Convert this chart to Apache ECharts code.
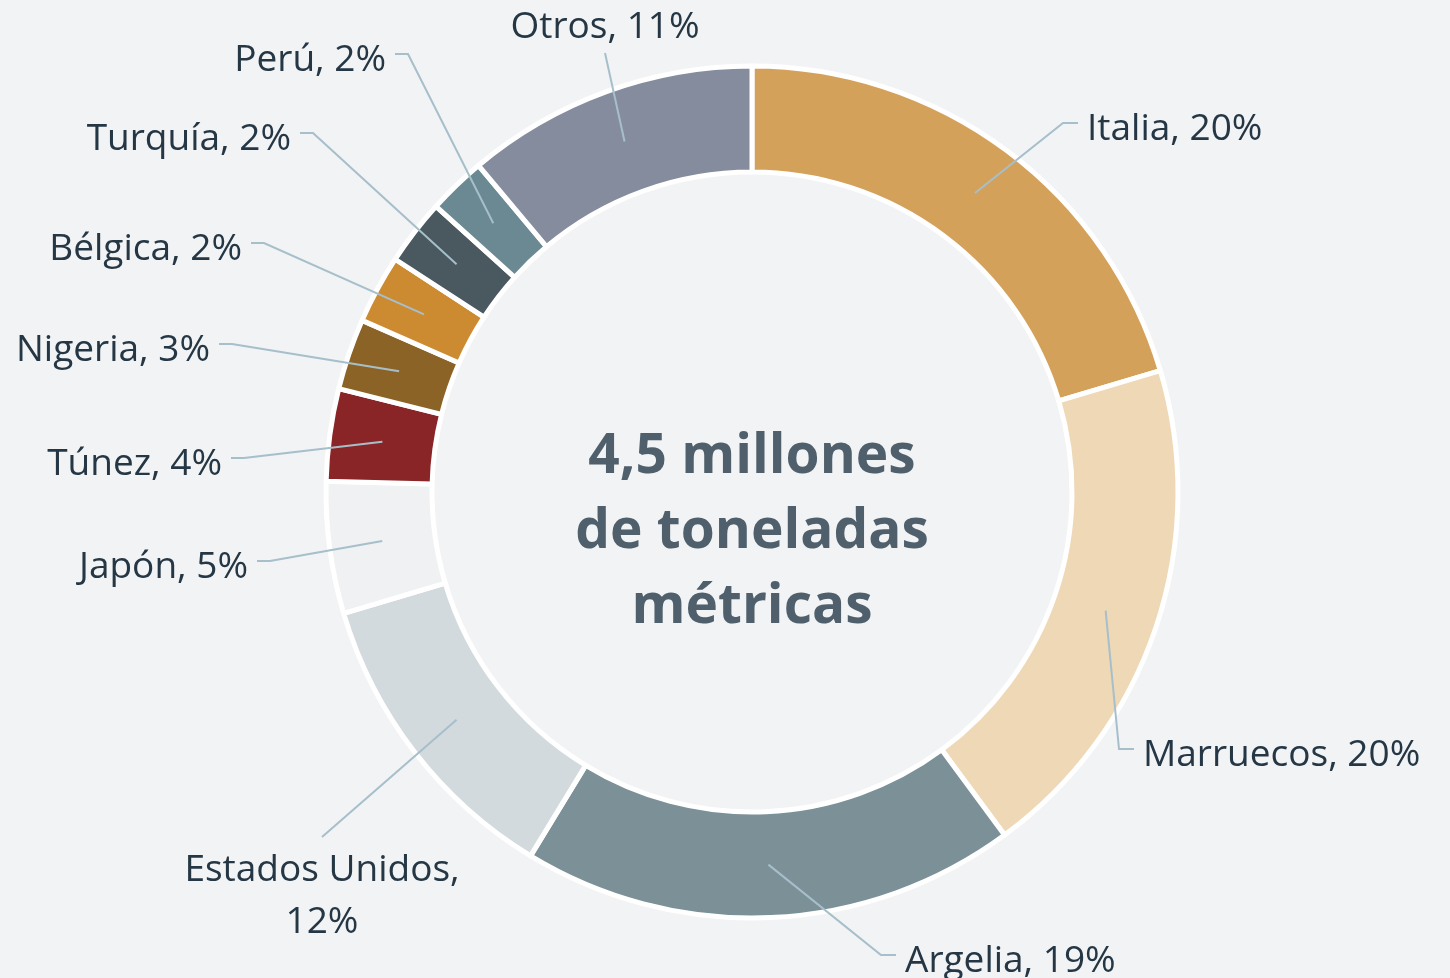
<!DOCTYPE html>
<html>
<head>
<meta charset="utf-8">
<script src="https://cdn.jsdelivr.net/npm/echarts@6/dist/echarts.min.js"></script>
<style>
  html, body { margin: 0; padding: 0; background: #f2f3f5; }
  #main { width: 1450px; height: 978px; }
</style>
</head>
<body>
<div id="main"></div>
<script>
// destinos de exportación (cuota, %)
const names = ['Italia', 'Marruecos', 'Argelia', 'Estados Unidos', 'Japón', 'Túnez',
  'Nigeria', 'Bélgica', 'Turquía', 'Perú', 'Otros'];
const shares = [20.4, 19.5, 18.8, 11.7, 5.0, 3.5, 2.7, 2.6, 2.5, 2.2, 11.1];
const pctLabels = [20, 20, 19, 12, 5, 4, 3, 2, 2, 2, 11];
const centerText = '4,5 millones\nde toneladas\nmétricas';

const colors = ['#d4a15a', '#efd8b6', '#7c9098', '#d3dade', '#eff1f3', '#8a2527',
  '#8c6326', '#cc8a31', '#4a5860', '#6b8993', '#858c9e'];

// where each label sits: [x, y, side]
const labelSpots = [
  [1087, 129, 'left'], [1143, 755, 'left'], [905, 961, 'left'],
  [322, 844, 'below'], [248, 567, 'right'], [222, 464, 'right'],
  [210, 350, 'right'], [242, 249, 'right'], [291, 139, 'right'],
  [386, 60, 'right'], [605, 27, 'above']
];

const chart = echarts.init(document.getElementById('main'));
const center = [752, 492];

const pieData = names.map(function (n, i) {
  return { name: n, value: shares[i], itemStyle: { color: colors[i] } };
});

const option = {
  backgroundColor: '#f2f3f5',
  animation: false,
  graphic: [{
    type: 'text',
    x: center[0],
    y: 532,
    style: {
      text: centerText,
      align: 'center',
      verticalAlign: 'middle',
      fill: '#4f606c',
      font: 'bold 55px "Open Sans"',
      lineHeight: 75
    },
    z: 10
  }],
  series: [
    {
      type: 'pie',
      center: center,
      radius: [320, 426],
      z: 2,
      silent: true,
      label: { show: false },
      labelLine: { show: false },
      itemStyle: { borderColor: '#ffffff', borderWidth: 5 },
      data: pieData
    },
    {
      // invisible pie reaching the middle of the ring, carries the labels
      type: 'pie',
      center: center,
      radius: [0, 373],
      z: 5,
      silent: true,
      avoidLabelOverlap: false,
      itemStyle: { color: 'rgba(0,0,0,0)', borderWidth: 0 },
      label: {
        show: true,
        position: 'outside',
        alignTo: 'none',
        overflow: 'none',
        fontFamily: 'Open Sans',
        fontSize: 37,
        lineHeight: 52,
        color: '#253744',
        formatter: function (p) {
          const sep = labelSpots[p.dataIndex][2] === 'below' ? ',\n' : ', ';
          return p.name + sep + pctLabels[p.dataIndex] + '%';
        }
      },
      labelLine: {
        show: true,
        length: 10,
        length2: 10,
        lineStyle: { color: '#a6bfca', width: 2 }
      },
      labelLayout: function (params) {
        const s = labelSpots[params.dataIndex];
        const x = s[0], y = s[1], side = s[2];
        const p0 = params.labelLinePoints[0];
        let pts, align = side, vAlign = 'middle';
        if (side === 'left') {
          pts = [p0, [x - 24, y - 6], [x - 9, y - 6]];
        } else if (side === 'right') {
          pts = [p0, [x + 22, y - 6], [x + 9, y - 6]];
        } else if (side === 'below') {
          align = 'center'; vAlign = 'top';
          pts = [p0, [x, y - 7], [x, y - 7]];
        } else {
          align = 'center';
          pts = [p0, [x, y + 26], [x, y + 26]];
        }
        return { x: x, y: y, align: align, verticalAlign: vAlign, labelLinePoints: pts };
      },
      data: names.map(function (n, i) { return { name: n, value: shares[i] }; })
    }
  ]
};

chart.setOption(option);
</script>
</body>
</html>
